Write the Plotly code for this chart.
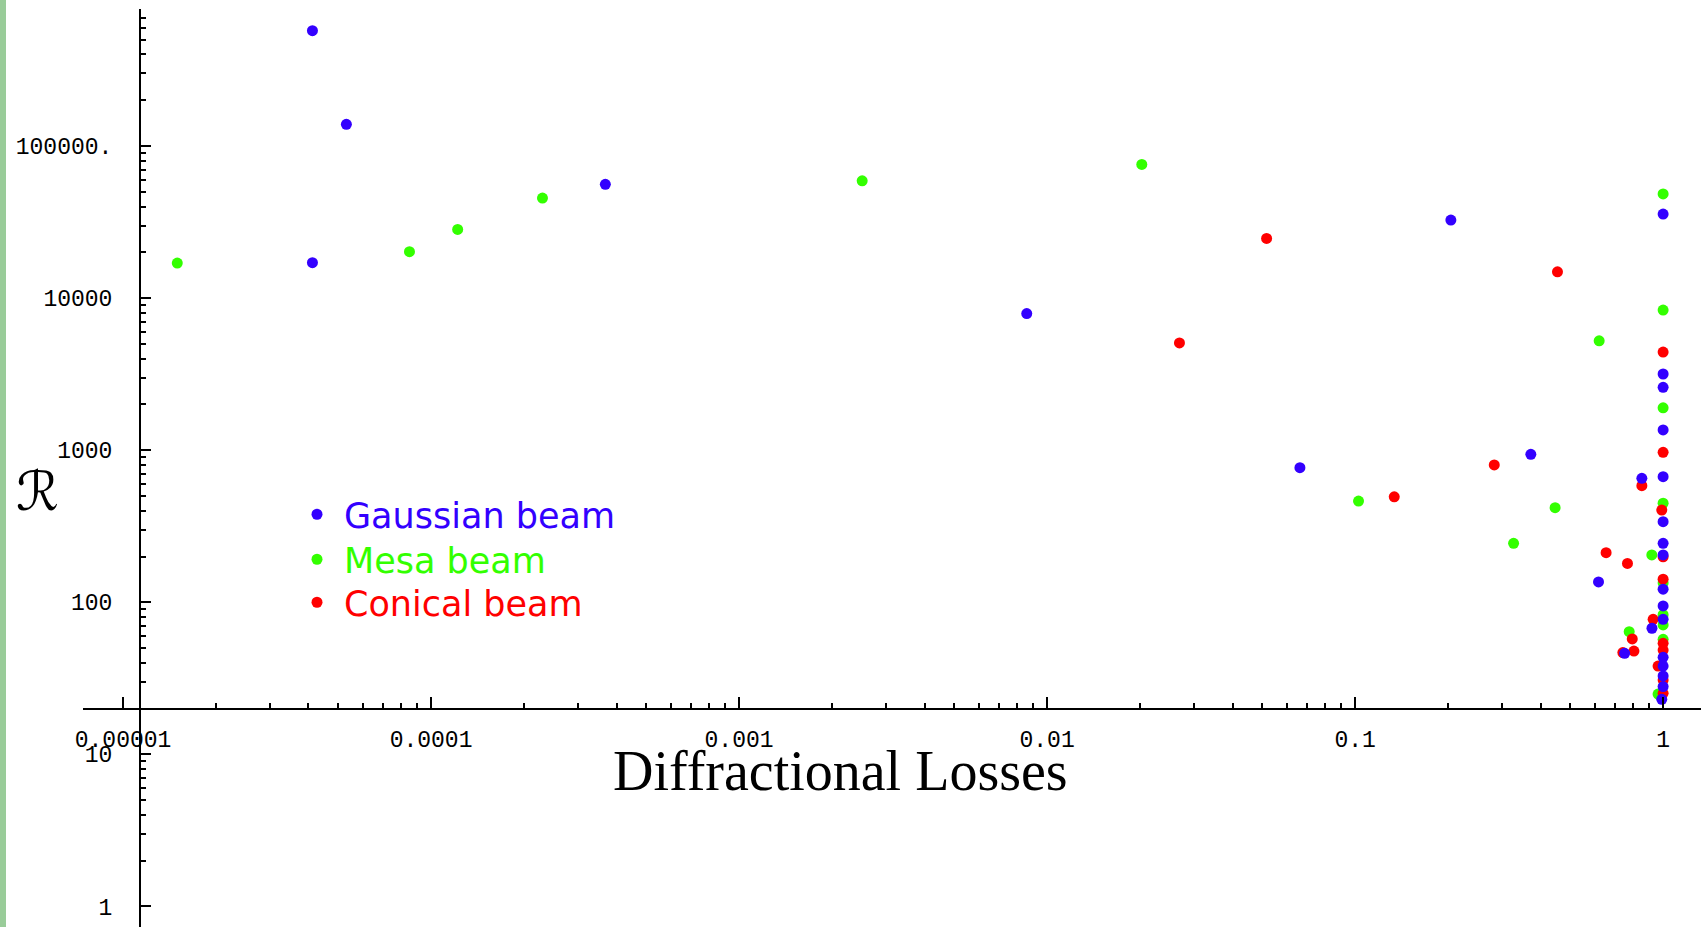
import plotly.graph_objects as go

# ---------------- data ----------------
gauss_x = [4.12e-5, 5.31e-5, 4.12e-5, 3.68e-4, 8.59e-3, 0.0662, 0.2046, 0.372, 0.617, 0.853, 0.75, 0.92,
           1, 1, 1, 1, 1, 1, 1, 1, 1, 1, 1, 1, 1, 1, 1, 0.99]
gauss_y = [5.73e5, 1.39e5, 1.71e4, 5.6e4, 7920, 767, 32600, 940, 136, 653, 46.2, 67.5,
           35700, 3170, 2590, 1360, 670, 339, 244, 205, 122, 94.6, 77.3, 43.5, 38.1, 32.8, 27.9, 23.0]

mesa_x = [1.50e-5, 8.51e-5, 1.22e-4, 2.30e-4, 2.51e-3, 0.0203, 0.1026, 0.327, 0.446, 0.62, 0.776, 0.919, 0.963,
          1, 1, 1, 1, 1, 1, 1, 1]
mesa_y = [17000, 20200, 28300, 45500, 59100, 75700, 463, 244, 419, 5240, 64.1, 205, 24.9,
          48400, 8340, 1900, 448, 134, 82.8, 71, 57.1]

conical_x = [0.0516, 0.0269, 0.134, 0.283, 0.454, 0.653, 0.766, 0.853, 0.794, 0.74, 0.804, 0.928,
             1, 1, 0.99, 1, 1, 1, 1, 0.963, 1, 1]
conical_y = [24700, 5070, 494, 800, 14900, 212, 180, 584, 57.4, 46.7, 47.8, 77.3,
             4420, 969, 404, 199, 142, 53.7, 48.5, 38.1, 30.8, 25.2]

series_names = ["Gaussian beam", "Mesa beam", "Conical beam"]
series_colors = ["rgb(51,0,255)", "rgb(51,255,0)", "rgb(255,0,0)"]

x_tick_vals = [1e-5, 1e-4, 1e-3, 1e-2, 1e-1, 1]
x_tick_text = ["0.00001", "0.0001", "0.001", "0.01", "0.1", "1"]
y_tick_vals = [1, 10, 100, 1000, 10000, 100000]
y_tick_text = ["1", "10", "100", "1000", "10000", "100000."]

x_minor = [m * 10.0 ** e for e in range(-5, 0) for m in range(2, 10)]
y_minor = [m * 10.0 ** e for e in range(0, 6) for m in range(2, 10) if m * 10.0 ** e < 8e5]

W, H = 1707, 927
TICKFONT = dict(family="Liberation Mono, Courier New, monospace", size=23, color="black")
LEGFONT = dict(family="DejaVu Sans, Verdana, sans-serif", size=35)

fig = go.Figure()

# draw order: Mesa, Conical, Gaussian (Gaussian on top); each series has its own legend box
for xs, ys, name, col, leg in [
    (mesa_x, mesa_y, series_names[1], series_colors[1], "legend2"),
    (conical_x, conical_y, series_names[2], series_colors[2], "legend3"),
    (gauss_x, gauss_y, series_names[0], series_colors[0], "legend"),
]:
    fig.add_trace(go.Scatter(
        x=xs, y=ys, mode="markers", name=f"<span style='color:{col}'>{name}</span>",
        legend=leg,
        marker=dict(color=col, size=11, line=dict(width=0)),
        hoverinfo="x+y",
    ))

def leg_box(top_px):
    return dict(x=290 / W, y=1 - top_px / H, xanchor="left", yanchor="top",
                bgcolor="rgba(0,0,0,0)", borderwidth=0, font=LEGFONT, itemwidth=44)

fig.update_layout(
    width=W, height=H,
    margin=dict(l=0, r=0, t=0, b=0, pad=0, autoexpand=False),
    paper_bgcolor="white", plot_bgcolor="white",
    showlegend=True,
    legend=leg_box(485),
    legend2=leg_box(530),
    legend3=leg_box(573),
    xaxis=dict(
        type="log", range=[-5.130, 0.123], domain=[83 / W, 1701 / W],
        anchor="free", position=(H - 709) / H, automargin=False,
        showline=True, linecolor="black", linewidth=2,
        showgrid=False, zeroline=False,
        ticks="inside", ticklen=11, tickwidth=1.5, tickcolor="black",
        tickvals=x_tick_vals, ticktext=x_tick_text, tickfont=TICKFONT,
        ticklabelstandoff=9,
        minor=dict(tickvals=x_minor, ticks="inside", ticklen=5, tickwidth=1.5, tickcolor="black", showgrid=False),
    ),
    yaxis=dict(
        type="log", range=[-0.135, 5.899], domain=[0, (H - 9.3) / H],
        anchor="free", position=140 / W, automargin=False,
        showline=True, linecolor="black", linewidth=2,
        showgrid=False, zeroline=False,
        ticks="inside", ticklen=10, tickwidth=1.5, tickcolor="black",
        tickvals=y_tick_vals, ticktext=y_tick_text, tickfont=TICKFONT,
        ticklabelstandoff=22,
        minor=dict(tickvals=y_minor, ticks="inside", ticklen=5, tickwidth=1.5, tickcolor="black", showgrid=False),
    ),
    shapes=[dict(type="rect", xref="paper", yref="paper", x0=0, x1=6 / W, y0=0, y1=1,
                 fillcolor="#99cc99", line=dict(width=0), layer="above")],
    annotations=[
        dict(text="Diffractional Losses", xref="paper", yref="paper", x=840 / W, y=1 - 771 / H,
             xanchor="center", yanchor="middle", showarrow=False,
             font=dict(family="Liberation Serif, Times New Roman, serif", size=56, color="black")),
        dict(text="ℛ", xref="paper", yref="paper", x=37 / W, y=1 - 491 / H,
             xanchor="center", yanchor="middle", showarrow=False,
             font=dict(family="DejaVu Serif, DejaVu Sans, serif", size=54, color="black")),
    ],
)

post = (
    "document.documentElement.style.margin='0';"
    "document.body.style.margin='0';"
    "document.body.style.overflow='hidden';"
    "var d=document.getElementById('{plot_id}');"
    "d.style.position='fixed';d.style.left='0px';d.style.top='0px';"
)
fig.write_html("out.html", config={"displayModeBar": False}, post_script=post)
